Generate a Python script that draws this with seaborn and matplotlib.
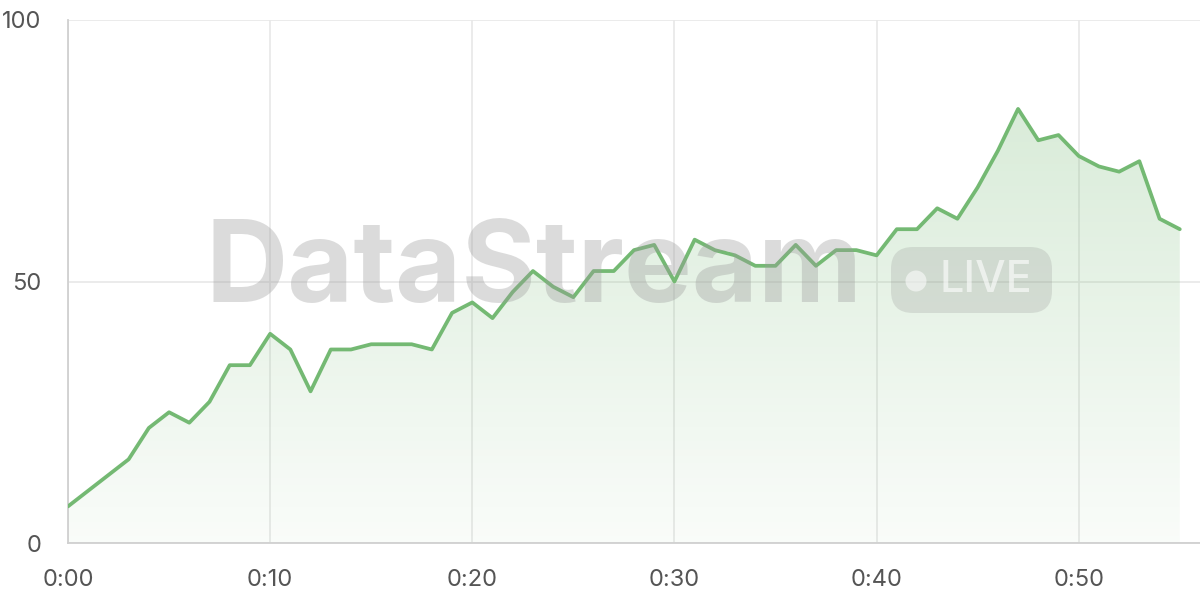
import numpy as np
import pandas as pd
import matplotlib
matplotlib.use("Agg")
import matplotlib.pyplot as plt
import seaborn as sns
from matplotlib.patches import FancyBboxPatch, Circle
from matplotlib.colors import LinearSegmentedColormap

minutes = list(range(56))
values = [7, 10, 13, 16, 22, 25, 23, 27, 34, 34,
          40, 37, 29, 37, 37, 38, 38, 38, 37, 44,
          46, 43, 48, 52, 49, 47, 52, 52, 56, 57,
          50, 58, 56, 55, 53, 53, 57, 53, 56, 56,
          55, 60, 60, 64, 62, 68, 75, 83, 77, 78,
          74, 72, 71, 73, 62, 60]
x_ticks = [0, 10, 20, 30, 40, 50]
x_labels = ["0:00", "0:10", "0:20", "0:30", "0:40", "0:50"]
y_ticks = [0, 50, 100]
y_labels = ["0", "50", "100"]

df = pd.DataFrame({"minute": minutes, "value": values})

sns.set_theme(style="white")
plt.rcParams["font.family"] = ["Inter", "DejaVu Sans"]

fig = plt.figure(figsize=(12, 6), dpi=100)
ax = fig.add_axes([68/1200, 57/600, 1 - 68/1200, (543-20)/600])

LINE = "#74b973"

# gradient fill
poly = ax.fill_between(df["minute"], df["value"], 0, color="none", lw=0)
cmap = LinearSegmentedColormap.from_list("g", [(0.455, 0.725, 0.451, 0.04), (0.455, 0.725, 0.451, 0.32)])
grad = np.linspace(0, 1, 256).reshape(-1, 1)
im = ax.imshow(grad, cmap=cmap, origin="lower", extent=[0, 56, 0, 100], aspect="auto", zorder=1.5)
path = poly.get_paths()[0]
im.set_clip_path(path, transform=ax.transData)

sns.lineplot(data=df, x="minute", y="value", ax=ax, color=LINE, lw=2.7, zorder=3)

ax.set_xlim(0, 56)
ax.set_ylim(0, 100)
ax.set_xticks(x_ticks)
ax.set_xticklabels(x_labels)
ax.set_yticks(y_ticks)
ax.set_yticklabels(y_labels)
ax.set_xlabel("")
ax.set_ylabel("")
ax.grid(True, color="#e8e8e8", lw=1.2, zorder=0)
ax.set_axisbelow(True)
for s in ["top", "right"]:
    ax.spines[s].set_visible(False)
for s in ["left", "bottom"]:
    ax.spines[s].set_color("#d0d0d0")
    ax.spines[s].set_linewidth(1.3)
ax.tick_params(axis="both", length=15, width=1.2, color="#e8e8e8", labelsize=17, labelcolor="#555555")
ax.tick_params(axis="y", pad=4)
ax.tick_params(axis="x", pad=4)

# watermark
inch = fig.dpi_scale_trans
fig.text(534/1200, 1 - 272/600, "DataStream", fontsize=82, fontweight="bold", color="#9a9a9a",
         alpha=0.35, ha="center", va="center", family=["Inter", "DejaVu Sans"], zorder=10)
pill = FancyBboxPatch((8.91, (600-313)/100), 1.61, 0.66,
                      boxstyle="round,pad=0,rounding_size=0.22", transform=inch,
                      facecolor="#8a8a8a", alpha=0.22, edgecolor="none", zorder=10)
fig.patches.append(pill)
fig.patches.append(Circle((9.16, (600-281)/100), 0.105, transform=inch,
                          facecolor="white", alpha=0.55, edgecolor="none", zorder=11))
fig.text(986/1200, 1 - 280/600, "LIVE", fontsize=31, color="white", alpha=0.6, fontweight="medium",
         ha="center", va="center", family=["Inter", "DejaVu Sans"], zorder=11)

fig.savefig("out.png", dpi=100)
